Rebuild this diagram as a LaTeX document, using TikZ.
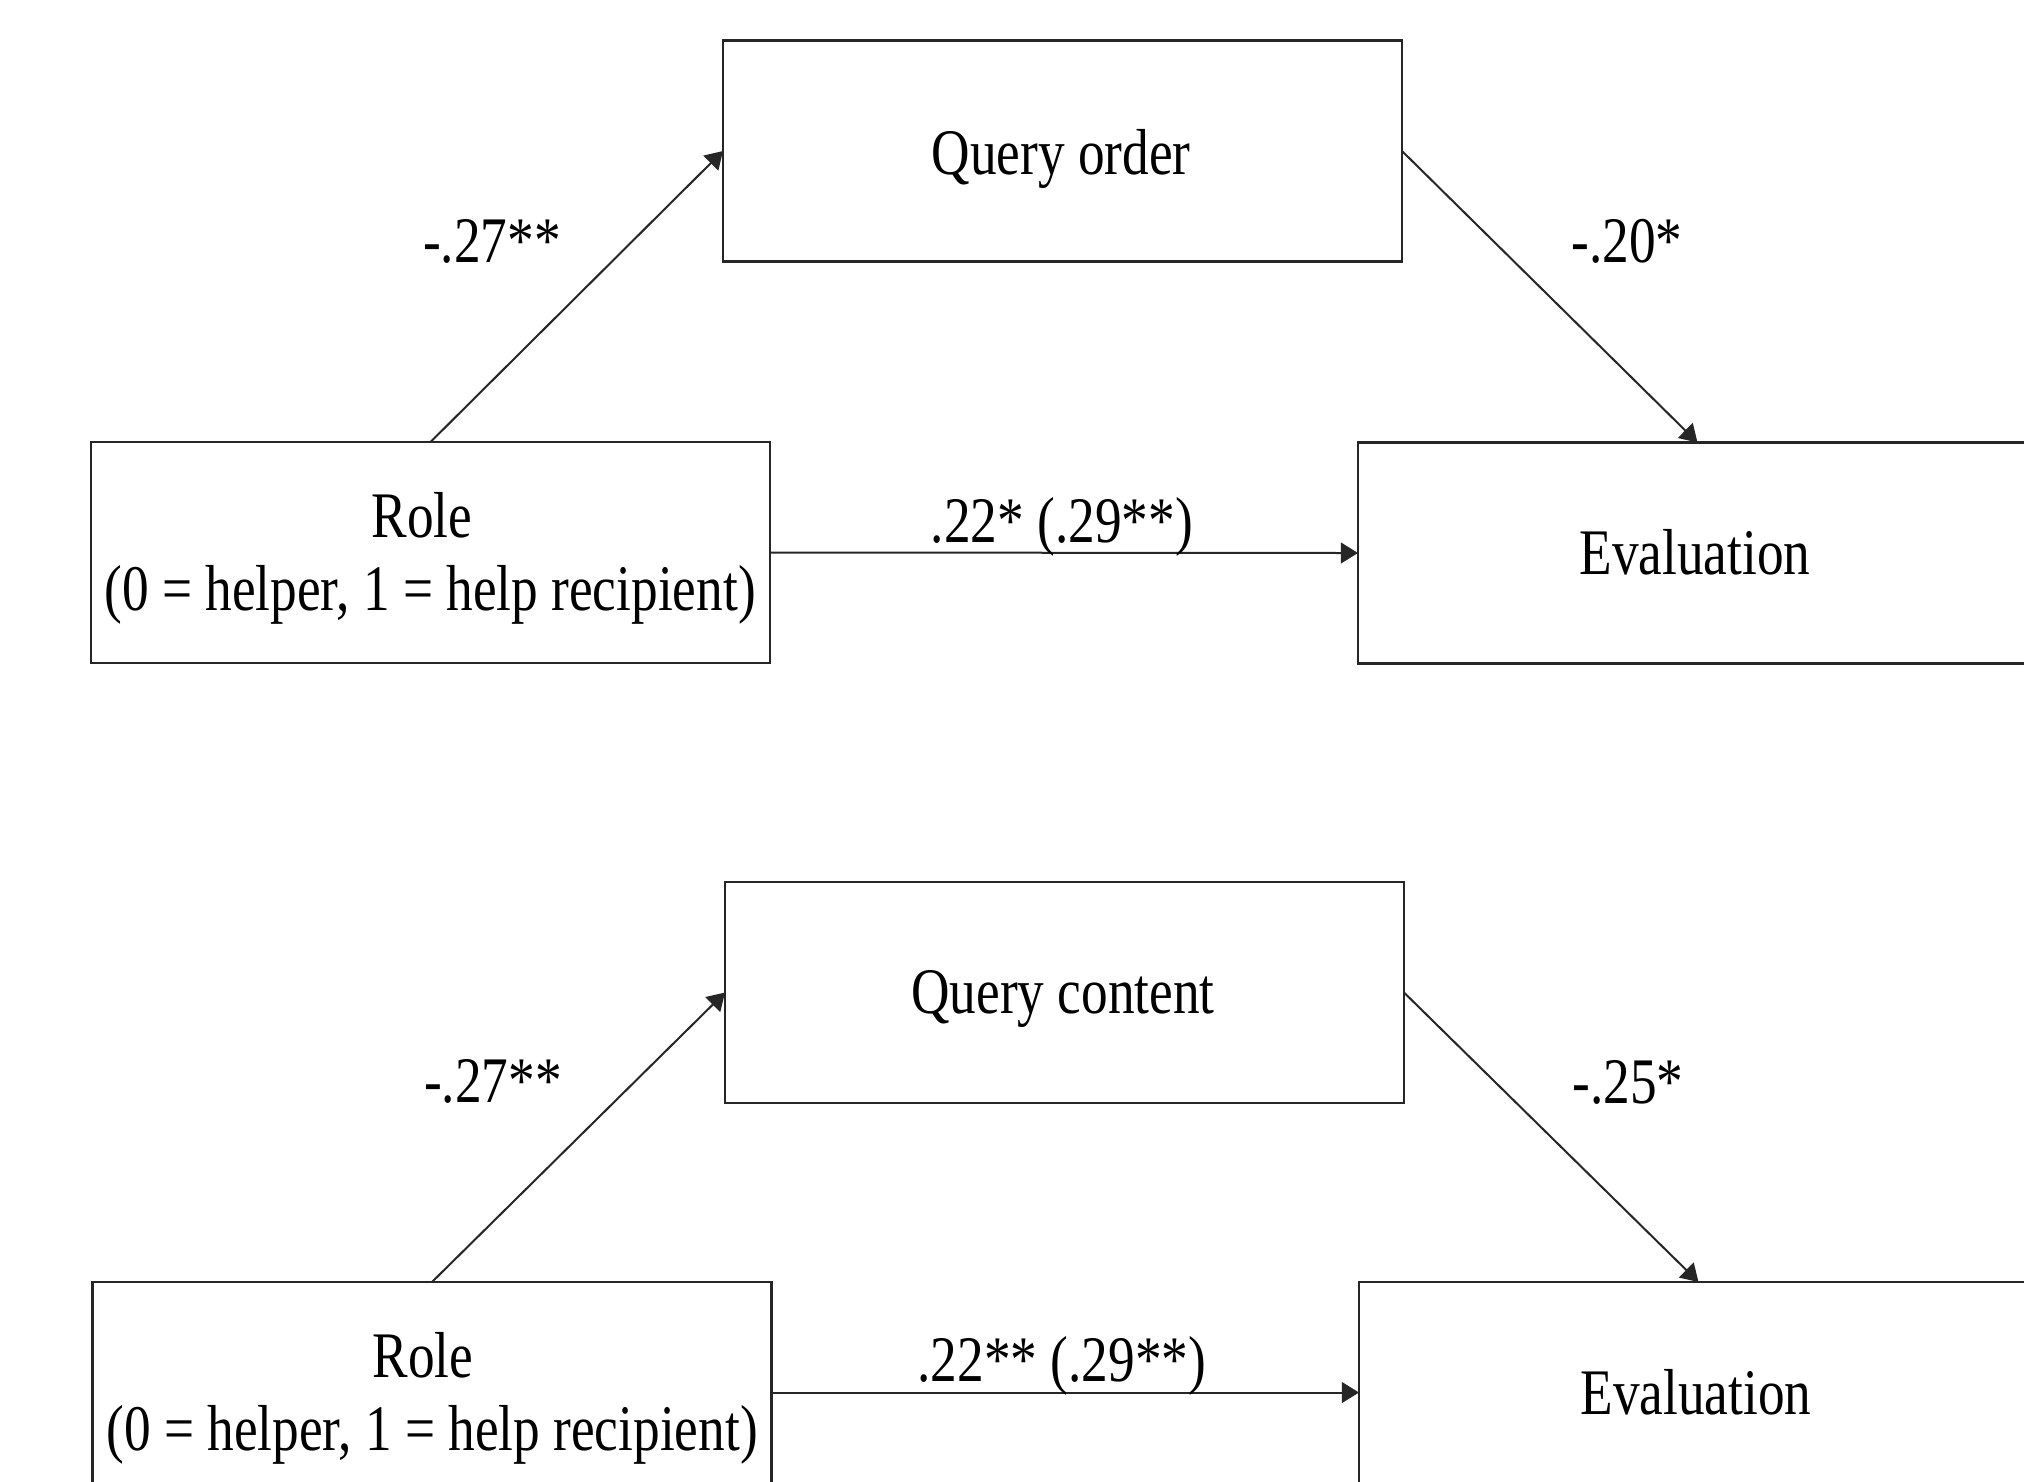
\documentclass[tikz,border=0pt]{standalone}
\usepackage{fontspec}
\setmainfont{Liberation Serif}
\usepackage{graphicx}
\usetikzlibrary{arrows.meta}
\newcommand{\sqz}[1]{\scalebox{0.82}[1]{#1}}
\tikzset{
  box/.style={draw=black!85, line width=0.55pt, rectangle, minimum width=169.75pt,
    minimum height=55.25pt, inner sep=0pt, outer sep=0pt},
  txt/.style={anchor=base, inner sep=0pt, font=\fontsize{16.25}{19.5}\selectfont},
  conn/.style={draw=black!85, line width=0.5pt, -{Triangle[length=4.3pt,width=5.2pt]}},
}
\begin{document}
\begin{tikzpicture}[x=0.25pt,y=-0.25pt]
\clip (0,0) rectangle (2024,1481);
\fill[white] (0,0) rectangle (2024,1481);

% ---------- top model ----------
\node[box] (qo)    at (1062.5,151) {};
\node[box] (roleA) at (430.5,552.5) {};
\node[box] (evalA) at (1697.5,553) {};

\node[txt] (qot)    at (1061,174) {\sqz{Query order}};
\node[txt] (roleAt) at (422,537) {\sqz{Role}};
\node[txt] (roleAs) at (430,610) {\sqz{(0 = helper, 1 = help recipient)}};
\node[txt] (evalAt) at (1695,574) {\sqz{Evaluation}};

\draw[conn] (roleA.north) -- (qo.west);
\draw[conn] (qo.east) -- (evalA.north);
\draw[conn] (roleA.east) -- (evalA.west);

\node[txt] (la1) at (492,262) {\sqz{-.27**}};
\node[txt] (la2) at (1627,262) {\sqz{-.20*}};
\node[txt] (la3) at (1062,542) {\sqz{.22* (.29**)}};

% ---------- bottom model ----------
\node[box] (qc)    at (1064.5,992.5) {};
\node[box] (roleB) at (432,1392.5) {};
\node[box] (evalB) at (1698.5,1392.5) {};

\node[txt] (qct)    at (1063,1013) {\sqz{Query content}};
\node[txt] (roleBt) at (423,1377) {\sqz{Role}};
\node[txt] (roleBs) at (432,1450) {\sqz{(0 = helper, 1 = help recipient)}};
\node[txt] (evalBt) at (1696,1414) {\sqz{Evaluation}};

\draw[conn] (roleB.north) -- (qc.west);
\draw[conn] (qc.east) -- (evalB.north);
\draw[conn] (roleB.east) -- (evalB.west);

\node[txt] (lb1) at (493,1102) {\sqz{-.27**}};
\node[txt] (lb2) at (1628,1103) {\sqz{-.25*}};
\node[txt] (lb3) at (1062,1381) {\sqz{.22** (.29**)}};
\end{tikzpicture}
\end{document}
